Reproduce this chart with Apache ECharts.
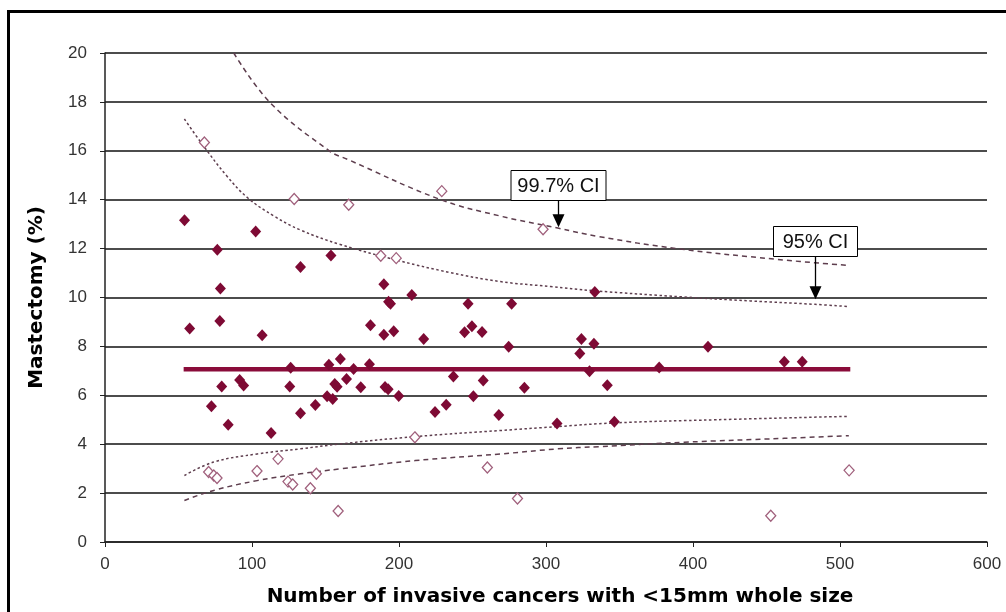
<!DOCTYPE html>
<html>
<head>
<meta charset="utf-8">
<script src="https://cdn.jsdelivr.net/npm/echarts@6/dist/echarts.min.js"></script>
<style>
html,body{margin:0;padding:0;background:#fff;}
#chart{width:1006px;height:612px;}
</style>
</head>
<body>
<div id="chart"></div>
<script>
// ---- data ----
const xTicks = [0, 100, 200, 300, 400, 500, 600];
const yTicks = [0, 2, 4, 6, 8, 10, 12, 14, 16, 18, 20];

// units within control limits (filled diamonds): [n, mastectomy %]
const insideUnits = [
  [54.1,13.16],[57.6,8.73],[72.4,5.55],[76.4,11.95],[78.1,9.04],[78.5,10.37],[79.4,6.36],[83.8,4.80],
  [91.6,6.63],[94.3,6.40],[102.5,12.70],[106.9,8.46],[113.0,4.46],[125.7,6.36],[126.3,7.13],[133.0,11.25],
  [133.0,5.27],[143.1,5.60],[151.1,5.96],[152.3,7.25],[153.7,11.72],[154.9,5.85],[156.3,6.46],[157.9,6.35],
  [160.1,7.48],[164.3,6.67],[169.1,7.08],[174.0,6.33],[179.9,7.27],[180.6,8.87],[189.7,10.54],[189.7,8.48],
  [190.5,6.34],[192.6,6.25],[192.9,9.83],[194.2,9.74],[196.4,8.62],[199.8,5.97],[208.7,10.10],[216.8,8.30],
  [224.5,5.32],[232.1,5.61],[237.0,6.77],[244.6,8.58],[247.0,9.74],[249.6,8.82],[250.6,5.96],[256.5,8.59],
  [257.3,6.61],[267.9,5.19],[274.6,7.99],[276.6,9.74],[285.3,6.31],[307.5,4.85],[323.0,7.71],[324.1,8.30],
  [329.6,6.98],[332.6,8.11],[333.2,10.22],[341.7,6.41],[346.5,4.92],[377.0,7.14],[410.2,7.99],[462.1,7.37],
  [474.3,7.37]
];
// units outside 95% limits (hollow diamonds)
const outsideUnits = [
  [67.6,16.34],[70.5,2.86],[74.0,2.72],[76.2,2.62],[103.4,2.90],[117.7,3.40],[124.5,2.47],[127.7,2.35],
  [128.7,14.03],[139.7,2.20],[143.8,2.79],[158.6,1.27],[165.8,13.79],[187.6,11.71],[198.1,11.61],[210.8,4.28],
  [229.1,14.35],[260.1,3.05],[280.6,1.78],[298.0,12.79],[452.9,1.07],[506.2,2.93]
];
// overall mean
const meanLine = [[53.5,7.07],[507,7.07]];
// control limits
const upper95 = [[54,17.3],[67,16.2],[83,14.96],[97,14.08],[115,13.33],[133,12.76],[160,12.17],[201,11.49],
  [235,11.02],[269,10.65],[303,10.45],[332,10.28],[394,10.02],[439,9.86],[483,9.72],[506,9.63]];
const upper997 = [[87.6,20.0],[112.5,17.96],[153,15.98],[165,15.65],[228,14.01],[269,13.33],[308,12.84],
  [336,12.49],[389,12.0],[457,11.56],[506,11.31]];
const lower95 = [[54,2.72],[74,3.27],[103.5,3.60],[133,3.81],[160,4.01],[211,4.31],[269,4.56],[308,4.72],
  [346,4.87],[416,5.0],[506,5.14]];
const lower997 = [[54,1.70],[74,2.11],[103.5,2.51],[133,2.79],[160,2.99],[211,3.33],[269,3.60],[308,3.81],
  [336,3.90],[394,4.08],[462,4.24],[506,4.35]];
// annotations: label, arrow x, box bottom y, arrow tip y (data units)
const annotationLabels = ['99.7% CI', '95% CI'];
const annotationX = [308, 483.3];
const annotationBoxBottom = [14.0, 11.69];
const annotationTip = [12.87, 9.93];

const xTitle = 'Number of invasive cancers with <15mm whole size';
const yTitle = 'Mastectomy (%)';

// ---- chart ----
const chart = echarts.init(document.getElementById('chart'), null, {renderer: 'canvas'});
const curveColor = '#5e3e4e';
const option = {
  animation: false,
  backgroundColor: '#ffffff',
  grid: {left: 105, right: 19, top: 53, bottom: 69},
  xAxis: {
    type: 'value', min: xTicks[0], max: xTicks[xTicks.length-1], interval: 100,
    name: xTitle, nameLocation: 'middle', nameGap: 45,
    nameTextStyle: {fontFamily: 'DejaVu Sans', fontWeight: 'bold', fontSize: 20, color: '#000', padding: [0,0,0,28]},
    axisLine: {lineStyle: {color: '#222', width: 1.5}},
    axisTick: {show: true, length: 5, lineStyle: {color: '#222'}},
    axisLabel: {margin: 14, fontFamily: 'Liberation Sans', fontSize: 17, color: '#333'},
    splitLine: {show: false}
  },
  yAxis: {
    type: 'value', min: yTicks[0], max: yTicks[yTicks.length-1], interval: 2,
    name: yTitle, nameLocation: 'middle', nameGap: 58, nameRotate: 90,
    nameTextStyle: {fontFamily: 'DejaVu Sans', fontWeight: 'bold', fontSize: 20, color: '#000'},
    axisLine: {show: true, lineStyle: {color: '#222', width: 1.5}},
    axisTick: {show: true, length: 5, lineStyle: {color: '#222'}},
    axisLabel: {margin: 18, fontFamily: 'Liberation Sans', fontSize: 17, color: '#333'},
    splitLine: {show: true, lineStyle: {color: '#111', width: 1.5}}
  },
  series: [
    {type: 'line', data: upper997, smooth: 0.4, symbol: 'none', clip: true,
     lineStyle: {color: curveColor, width: 1.5, type: [5, 4]}, z: 3},
    {type: 'line', data: upper95, smooth: 0.4, symbol: 'none', clip: true,
     lineStyle: {color: curveColor, width: 1.5, type: [2.5, 2.5]}, z: 3},
    {type: 'line', data: lower95, smooth: 0.4, symbol: 'none', clip: true,
     lineStyle: {color: curveColor, width: 1.5, type: [2.5, 2.5]}, z: 3},
    {type: 'line', data: lower997, smooth: 0.4, symbol: 'none', clip: true,
     lineStyle: {color: curveColor, width: 1.5, type: [5, 4]}, z: 3},
    {type: 'line', data: meanLine, symbol: 'none',
     lineStyle: {color: '#8a0c3a', width: 4.5}, z: 4},
    {type: 'scatter', data: outsideUnits, symbol: 'diamond', symbolSize: [10, 11],
     itemStyle: {color: '#ffffff', borderColor: '#a0607c', borderWidth: 1.3, opacity: 1}, z: 5},
    {type: 'scatter', data: insideUnits, symbol: 'diamond', symbolSize: [11, 12],
     itemStyle: {color: '#7e0a34', opacity: 1}, z: 6}
  ]
};
chart.setOption(option);

// annotations positioned through the chart's own scales
const graphics = [
  {type: 'rect', shape: {x: 8.5, y: 11.5, width: 1100, height: 700},
   style: {fill: null, stroke: '#000', lineWidth: 3}, silent: true, z: 100}
];
const boxW = [95, 84];
const boxH = 30;
annotationLabels.forEach(function (label, i) {
  const bottom = chart.convertToPixel({gridIndex: 0}, [annotationX[i], annotationBoxBottom[i]]);
  const tip = chart.convertToPixel({gridIndex: 0}, [annotationX[i], annotationTip[i]]);
  const cx = Math.round(bottom[0]) + 0.5;
  const by = Math.round(bottom[1]) + 0.5;
  graphics.push({
    type: 'rect', z: 50,
    shape: {x: cx - boxW[i] / 2, y: by - boxH, width: boxW[i], height: boxH},
    style: {fill: '#fff', stroke: '#000', lineWidth: 1}
  });
  graphics.push({
    type: 'text', z: 51,
    style: {x: cx, y: by - boxH / 2 + 1, text: label, fill: '#111',
            font: '20px "Liberation Sans"', textAlign: 'center', textVerticalAlign: 'middle'}
  });
  graphics.push({
    type: 'line', z: 50,
    shape: {x1: cx, y1: by, x2: cx, y2: tip[1] - 10},
    style: {stroke: '#000', lineWidth: 1.3}
  });
  graphics.push({
    type: 'polygon', z: 50,
    shape: {points: [[cx - 6, tip[1] - 13], [cx + 6, tip[1] - 13], [cx, tip[1]]]},
    style: {fill: '#000'}
  });
});
chart.setOption({graphic: graphics});
</script>
</body>
</html>
